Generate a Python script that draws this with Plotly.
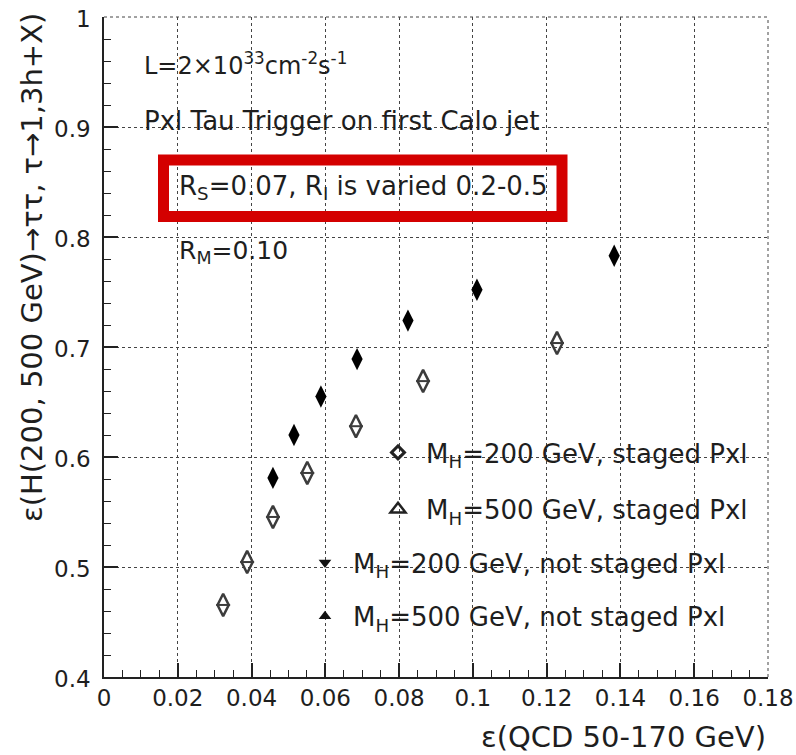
import plotly.graph_objects as go

# ---- data ----
qcd_eff_mh200_staged = [0.0458, 0.0515, 0.0588, 0.0686, 0.0824, 0.1011, 0.1383]
sig_eff_mh200_staged = [0.581, 0.620, 0.655, 0.689, 0.724, 0.752, 0.783]

qcd_eff_mh500_staged = [0.0323, 0.0388, 0.0458, 0.0551, 0.0683, 0.0865, 0.1228]
sig_eff_mh500_staged = [0.4655, 0.5045, 0.5455, 0.5855, 0.628, 0.669, 0.7036]

series_names = [
    "M<sub>H</sub>=200 GeV, staged Pxl",
    "M<sub>H</sub>=500 GeV, staged Pxl",
    "M<sub>H</sub>=200 GeV, not staged Pxl",
    "M<sub>H</sub>=500 GeV, not staged Pxl",
]

x_tickvals = [0, 0.02, 0.04, 0.06, 0.08, 0.1, 0.12, 0.14, 0.16, 0.18]
x_ticktext = ["0", "0.02", "0.04", "0.06", "0.08", "0.1", "0.12", "0.14", "0.16", "0.18"]
y_tickvals = [0.4, 0.5, 0.6, 0.7, 0.8, 0.9, 1.0]
y_ticktext = ["0.4", "0.5", "0.6", "0.7", "0.8", "0.9", "1"]

FONT = "DejaVu Sans"
TXT = "#1e1e1e"

fig = go.Figure()

# MH=200 staged: data points
fig.add_trace(go.Scatter(
    x=qcd_eff_mh200_staged, y=sig_eff_mh200_staged, mode="markers",
    marker=dict(symbol="diamond-tall", size=16, color="black", line=dict(width=0)),
    legendgroup="g1", showlegend=False, hoverinfo="x+y"))
# MH=500 staged: data points (open diamond with middle bar)
fig.add_trace(go.Scatter(
    x=qcd_eff_mh500_staged, y=sig_eff_mh500_staged, mode="markers",
    marker=dict(symbol="diamond-tall-open", size=16, color="#3c3c3c", line=dict(width=2.5, color="#3c3c3c")),
    legendgroup="g2", showlegend=False, hoverinfo="x+y"))
fig.add_trace(go.Scatter(
    x=qcd_eff_mh500_staged, y=sig_eff_mh500_staged, mode="markers",
    marker=dict(symbol="line-ew", size=10, color="#3c3c3c", line=dict(width=2, color="#3c3c3c")),
    legendgroup="g2", showlegend=False, hoverinfo="skip"))

# legend entries
legend_markers = [
    dict(symbol="diamond-open", size=10, color="#222", line=dict(width=3, color="#222")),
    dict(symbol="triangle-up-open", size=13, color="#222", line=dict(width=2.5, color="#222")),
    dict(symbol="triangle-down", size=11, color="#111", line=dict(width=0)),
    dict(symbol="triangle-up", size=11, color="#111", line=dict(width=0)),
]
legend_ids = ["legend", "legend", "legend2", "legend2"]
for i, (name, mk, lg) in enumerate(zip(series_names, legend_markers, legend_ids)):
    fig.add_trace(go.Scatter(x=[None], y=[None], mode="markers", name=name,
                             marker=mk, legendgroup="g%d" % (i + 1), showlegend=True,
                             legend=lg))

# body margin is removed in the page, so figure pixels == page pixels
OFF = 0
W, H = 796 - OFF, 755 - OFF
# plot area in page pixels: x 104..768, y 17..677
L, T = 104 - OFF, 17 - OFF
R, B = W - (768 - OFF), H - (677 - OFF)
pw, ph = W - L - R, H - T - B

def px(xp):
    return (xp - OFF - L) / pw

def py(yp):
    return (H - B - (yp - OFF)) / ph

annotations = [
    dict(text="L=2×10<sup>33</sup>cm<sup>-2</sup>s<sup>-1</sup>", x=px(142), y=py(64),
         xanchor="left", yanchor="middle", font=dict(size=24)),
    dict(text="Pxl Tau Trigger on first Calo jet", x=px(142), y=py(121),
         xanchor="left", yanchor="middle", font=dict(size=26)),
    dict(text="R<sub>S</sub>=0.07, R<sub>I</sub> is varied 0.2-0.5", x=px(177), y=py(188),
         xanchor="left", yanchor="middle", font=dict(size=26)),
    dict(text="R<sub>M</sub>=0.10", x=px(177), y=py(252),
         xanchor="left", yanchor="middle", font=dict(size=25)),
    dict(text="ε(QCD 50-170 GeV)", x=1.0, y=py(737), xanchor="right", yanchor="middle",
         font=dict(size=29)),
    dict(text="ε(H(200, 500 GeV)→ττ, τ→1,3h+X)", x=px(32), y=py(268), xanchor="center",
         yanchor="middle", textangle=-90, font=dict(size=29)),
]
for a in annotations:
    a.update(xref="paper", yref="paper", showarrow=False)
    a["font"].update(family=FONT, color=TXT)

legend_common = dict(xanchor="left", yanchor="top", bgcolor="rgba(0,0,0,0)",
                     font=dict(size=26, family=FONT, color=TXT), itemsizing="trace",
                     itemwidth=46)

edge_line = dict(color="#444", width=1, dash="dot")
fig.update_layout(
    width=W, height=H,
    margin=dict(l=L, r=R, t=T, b=B, autoexpand=False),
    paper_bgcolor="white", plot_bgcolor="white",
    font=dict(family=FONT, color=TXT),
    annotations=annotations,
    shapes=[
        dict(type="rect", xref="paper", yref="paper",
             x0=px(163.5), x1=px(562), y0=py(216.5), y1=py(160),
             line=dict(color="#d40000", width=11), fillcolor="rgba(0,0,0,0)"),
        # dotted frame on top and right edges
        dict(type="line", xref="paper", yref="paper", x0=0, x1=1, y0=1, y1=1, line=edge_line),
        dict(type="line", xref="paper", yref="paper", x0=1, x1=1, y0=0, y1=1, line=edge_line),
    ],
    legend=dict(x=px(370), y=py(429), tracegroupgap=20, **legend_common),
    legend2=dict(x=px(297), y=py(539), tracegroupgap=17, **legend_common),
    showlegend=True,
)

axis_common = dict(
    automargin=False, ticklabeloverflow="allow",
    showgrid=True, gridcolor="#444", gridwidth=1, griddash="dot",
    showline=True, linecolor="#222", linewidth=1.5, zeroline=False,
    ticks="inside", tickcolor="#222", tickwidth=1.5, ticklen=14,
    tickfont=dict(size=23, family=FONT, color=TXT),
)
fig.update_xaxes(range=[0, 0.18], tickvals=x_tickvals, ticktext=x_ticktext,
                 minor=dict(ticks="inside", dtick=0.005, ticklen=7, tickcolor="#222", tickwidth=1.2, showgrid=False),
                 **axis_common)
fig.update_yaxes(range=[0.4, 1.0], tickvals=y_tickvals, ticktext=y_ticktext,
                 minor=dict(ticks="inside", dtick=0.02, ticklen=7, tickcolor="#222", tickwidth=1.2, showgrid=False),
                 ticklabelstandoff=7, ticklabelshift=2, **axis_common)

fig.write_html("out.html", config={"displayModeBar": False},
               post_script="document.body.style.margin='0';document.body.style.overflow='hidden';")
